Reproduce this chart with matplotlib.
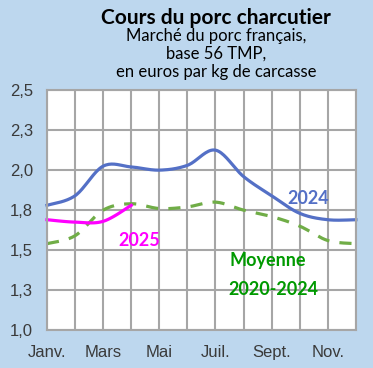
import numpy as np
import matplotlib
matplotlib.use('Agg')
import matplotlib.pyplot as plt

# monthly prices, euros / kg carcass
months = ['Janv.', 'Févr.', 'Mars', 'Avr.', 'Mai', 'Juin',
          'Juil.', 'Août', 'Sept.', 'Oct.', 'Nov.', 'Déc.']
prix_2024 = [1.78, 1.84, 2.025, 2.02, 2.00, 2.03, 2.125, 1.96, 1.84, 1.73, 1.69, 1.69]
moyenne_2020_2024 = [1.54, 1.59, 1.75, 1.79, 1.76, 1.77, 1.80, 1.75, 1.71, 1.65, 1.56, 1.54]
prix_2025 = [1.69, 1.675, 1.68, 1.78]

y_ticks = [1.0, 1.25, 1.5, 1.75, 2.0, 2.25, 2.5]
y_ticklabels = ['1,0', '1,3', '1,5', '1,8', '2,0', '2,3', '2,5']

BG = '#BDD7EE'
GRID = '#A6A6A6'


def smooth(y, n=20):
    # catmull-rom curve through the points, like excel's smoothed lines
    y = np.asarray(y, dtype=float)
    x = np.arange(len(y), dtype=float)
    p = np.vstack([x, y]).T
    p = np.vstack([p[0], p, p[-1]])
    out = []
    t = np.linspace(0, 1, n, endpoint=False)[:, None]
    for i in range(1, len(p) - 2):
        p0, p1, p2, p3 = p[i - 1], p[i], p[i + 1], p[i + 2]
        seg = 0.5 * ((2 * p1) + (-p0 + p2) * t
                     + (2 * p0 - 5 * p1 + 4 * p2 - p3) * t ** 2
                     + (-p0 + 3 * p1 - 3 * p2 + p3) * t ** 3)
        out.append(seg)
    out.append(p[-2][None, :])
    out = np.vstack(out)
    return out[:, 0], out[:, 1]


fig = plt.figure(figsize=(3.73, 3.68), dpi=100, facecolor=BG)
ax = fig.add_axes([0.126, 0.103, 0.828, 0.652])
ax.set_facecolor('white')

ax.set_xlim(0, 11)
ax.set_ylim(1.0, 2.5)
ax.set_xticks(range(12))
ax.set_xticklabels([m if i % 2 == 0 else '' for i, m in enumerate(months)])
ax.set_yticks(y_ticks)
ax.set_yticklabels(y_ticklabels)
ax.tick_params(length=0, labelsize=12, labelcolor='#3A3A3A')
ax.tick_params(axis='y', pad=10)
ax.tick_params(axis='x', pad=11)
for lab in ax.get_xticklabels() + ax.get_yticklabels():
    lab.set_family('Liberation Sans')
ax.grid(True, color=GRID, linewidth=1.5)
ax.set_axisbelow(True)
for s in ax.spines.values():
    s.set_color(GRID)
    s.set_linewidth(1.5)

x, y = smooth(moyenne_2020_2024)
ax.plot(x, y, color='#70AD47', linewidth=2.3, dashes=(3.8, 3.2), clip_on=False)
x, y = smooth(prix_2024)
ax.plot(x, y, color='#5470C6', linewidth=2.3, clip_on=False)
x, y = smooth(prix_2025)
ax.plot(x, y, color='#FF00FF', linewidth=2.3, clip_on=False)

font = 'Lato'
ax.text(3.27, 1.5625, '2025', color='#FF00FF', fontsize=13, fontweight='bold',
        family=font, ha='center', va='center')
ax.text(9.29, 1.825, '2024', color='#5470C6', fontsize=13, fontweight='bold',
        family=font, ha='center', va='center')
ax.text(7.85, 1.4375, 'Moyenne', color='#009900', fontsize=13, fontweight='bold',
        family=font, ha='center', va='center')
ax.text(8.05, 1.256, '2020-2024', color='#009900', fontsize=13, fontweight='bold',
        family=font, ha='center', va='center')

fig.text(0.579, 0.952, 'Cours du porc charcutier', fontsize=15, fontweight='bold',
         family=font, ha='center', va='center', color='black')
fig.text(0.579, 0.901, 'Marché du porc français,', fontsize=12,
         family=font, ha='center', va='center', color='black')
fig.text(0.579, 0.853, 'base 56 TMP,', fontsize=12,
         family=font, ha='center', va='center', color='black')
fig.text(0.579, 0.804, 'en euros par kg de carcasse', fontsize=12,
         family=font, ha='center', va='center', color='black')

fig.savefig('out.png', dpi=100, facecolor=BG)
